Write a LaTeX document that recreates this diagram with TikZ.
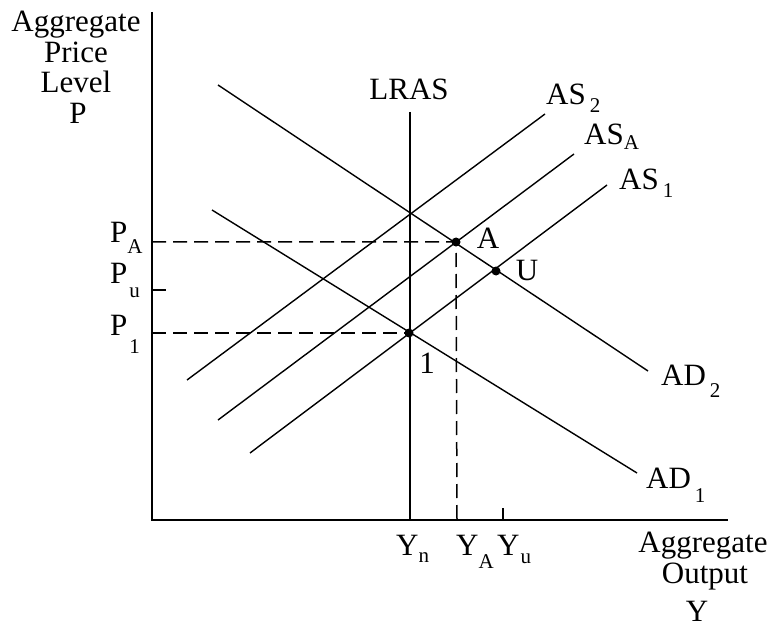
\documentclass[tikz,border=0pt]{standalone}
\usepackage{fontspec}
\setmainfont{Liberation Serif}
\newcommand\lowsub[2]{\raisebox{-#1pt}{\fontsize{21}{21}\selectfont #2}}
\begin{document}
\begin{tikzpicture}[x=1pt,y=-1pt,
  lbl/.style={font=\fontsize{31}{31}\selectfont, inner sep=0pt, anchor=base},
  lblw/.style={lbl, anchor=base west},
  curve/.style={line width=1.4pt},
  axis/.style={line width=2pt},
  guide/.style={line width=1.5pt, dash pattern=on 14pt off 7pt},
  tick/.style={line width=1.5pt},
  dot/.style={circle, fill, inner sep=0pt, minimum size=9pt}]
\useasboundingbox (0,0) rectangle (771,631);
% axes
\coordinate (O) at (152,520);
\coordinate (ytop) at (152,12);
\coordinate (xend) at (728,520);
\draw[axis] (ytop) -- (O) -- (xend);
% LRAS
\coordinate (lrasT) at (410,112);
\coordinate (lrasB) at (410,520);
\draw[curve] (lrasT) -- (lrasB);
% AD curves
\coordinate (ad2s) at (218,85);  \coordinate (ad2e) at (648,371);
\coordinate (ad1s) at (212,210); \coordinate (ad1e) at (637,473);
\draw[curve] (ad2s) -- (ad2e);
\draw[curve] (ad1s) -- (ad1e);
% AS curves
\coordinate (as2s) at (187,380); \coordinate (as2e) at (545,114);
\coordinate (asAs) at (218,420); \coordinate (asAe) at (574,154);
\coordinate (as1s) at (250,453); \coordinate (as1e) at (607,185);
\draw[curve] (as2s) -- (as2e);
\draw[curve] (asAs) -- (asAe);
\draw[curve] (as1s) -- (as1e);
% equilibrium points
\node[dot] (ptA) at (456,242) {};
\node[dot] (ptU) at (496,271) {};
\node[dot] (pt1) at (409,333) {};
% dashed guides
\coordinate (pA) at (152,242);
\coordinate (yA) at (457,520);
\coordinate (p1) at (152,333);
\draw[guide] (pA) -- (ptA.center) -- (yA);
\draw[guide] (p1) -- (pt1.center);
% ticks
\coordinate (puL) at (152,290); \coordinate (puR) at (166,290);
\draw[tick] (puL) -- (puR);
\coordinate (yuT) at (503,508); \coordinate (yuB) at (503,520);
\draw[tick] (yuT) -- (yuB);
% curve labels
\node[lbl] (lLRAS) at (409,100) {LRAS};
\node[lblw] (lAS2) at (546,105) {AS\hspace{4pt}\lowsub{8}{2}};
\node[lblw] (lASA) at (584,145) {AS\lowsub{5}{A}};
\node[lblw] (lAS1) at (619,190) {AS\hspace{4pt}\lowsub{8}{1}};
\node[lblw] (lAD2) at (661,385) {AD\hspace{4pt}\lowsub{12}{2}};
\node[lblw] (lAD1) at (646,488) {AD\hspace{4pt}\lowsub{14}{1}};
% point labels
\node[lbl] (lA) at (488,248) {A};
\node[lbl] (lU) at (527,280) {U};
\node[lbl] (l1) at (427,373) {1};
% price labels
\node[lblw] (lPA) at (110,243) {P\lowsub{10}{A}};
\node[lblw] (lPu) at (110,283) {P\hspace{2pt}\lowsub{14}{u}};
\node[lblw] (lP1) at (110,335) {P\hspace{2pt}\lowsub{18}{1}};
% output labels
\node[lblw] (lYn) at (396,555) {Y\lowsub{7}{n}};
\node[lblw] (lYA) at (456,555) {Y\lowsub{13}{A}};
\node[lblw] (lYu) at (497,555) {Y\hspace{1pt}\lowsub{8}{u}};
% axis titles
\node[lbl] (yt1) at (76,32) {Aggregate};
\node[lbl] (yt2) at (76,63) {Price};
\node[lbl] (yt3) at (76,93) {Level};
\node[lbl] (yt4) at (78,124) {P};
\node[lbl] (xt1) at (703,552) {Aggregate};
\node[lbl] (xt2) at (705,583) {Output};
\node[lbl] (xt3) at (697,621) {Y};
\end{tikzpicture}
\end{document}
